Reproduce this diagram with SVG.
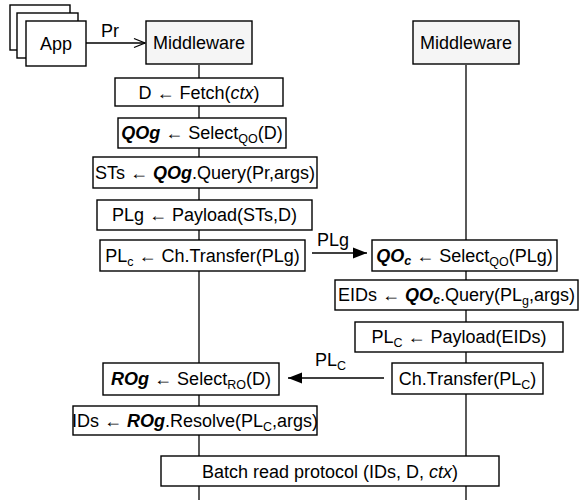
<svg xmlns="http://www.w3.org/2000/svg" width="580" height="500" viewBox="0 0 580 500">
  <style>
    text { font-family: "Liberation Sans", Arial, Helvetica, sans-serif; font-size: 18px; fill: #000; }
    .c { text-anchor: middle; }
    .box { fill: #fff; stroke: #000; stroke-width: 1.4; }
    .mw { fill: #f5f5f5; stroke: #000; stroke-width: 1.4; }
    .life { stroke: #000; stroke-width: 1.3; fill: none; }
    .msg { stroke: #000; stroke-width: 1.3; fill: none; }
    .bi { font-weight: bold; font-style: italic; }
    .it { font-style: italic; }
    .sub { font-size: 12.5px; }
  </style>
  <defs>
    <marker id="open" markerWidth="14" markerHeight="12" refX="12" refY="6" orient="auto" markerUnits="userSpaceOnUse">
      <path d="M1,1.5 L12,6 L1,10.5" fill="none" stroke="#000" stroke-width="1.3"/>
    </marker>
    <marker id="solid" markerWidth="16" markerHeight="12" refX="14" refY="6" orient="auto" markerUnits="userSpaceOnUse">
      <path d="M0,0.5 L14,6 L0,11.5 Z" fill="#000"/>
    </marker>
  </defs>

  <!-- lifelines and messages -->
  <g id="connectors">
    <line class="life" x1="199" y1="65" x2="199" y2="500"/>
    <line class="life" x1="466" y1="65" x2="466" y2="500"/>
    <line class="msg" x1="86" y1="43" x2="145" y2="43" marker-end="url(#open)"/>
    <text x="110" y="37" class="c">Pr</text>
    <line class="msg" x1="312" y1="253" x2="367" y2="253" marker-end="url(#solid)"/>
    <text x="333" y="246" class="c">PLg</text>
    <line class="msg" x1="384" y1="378" x2="288" y2="378" marker-end="url(#solid)"/>
    <text x="315" y="366">PL<tspan class="sub" dy="4">C</tspan></text>
  </g>

  <g id="app">
    <rect class="box" x="10" y="5" width="60" height="45"/>
    <rect class="box" x="17" y="13" width="61" height="45"/>
    <rect class="box" x="26" y="21" width="60" height="45"/>
    <text x="56" y="50" class="c">App</text>
  </g>

  <g id="middleware-left">
    <rect class="mw" x="146" y="21" width="106" height="43"/>
    <text x="199" y="49" class="c">Middleware</text>
  </g>

  <g id="middleware-right">
    <rect class="mw" x="413" y="21" width="106" height="43"/>
    <text x="466" y="49" class="c">Middleware</text>
  </g>

  <g id="fetch">
    <rect class="box" x="115" y="78" width="168" height="28"/>
    <text x="199" y="98.5" class="c">D ← Fetch(<tspan class="it">ctx</tspan>)</text>
  </g>

  <g id="select-qog">
    <rect class="box" x="118" y="118" width="168" height="30"/>
    <text x="202" y="139" class="c"><tspan class="bi">QOg</tspan> ← Select<tspan class="sub" dy="4">QO</tspan><tspan dy="-4">(D)</tspan></text>
  </g>

  <g id="query-sts">
    <rect class="box" x="93" y="157" width="224" height="31"/>
    <text x="205" y="178.5" class="c">STs ← <tspan class="bi">QOg</tspan>.Query(Pr,args)</text>
  </g>

  <g id="payload-plg">
    <rect class="box" x="97" y="200" width="215" height="30"/>
    <text x="204.5" y="221" class="c">PLg ← Payload(STs,D)</text>
  </g>

  <g id="transfer-plg">
    <rect class="box" x="100" y="240" width="205" height="31"/>
    <text x="202.5" y="262" class="c">PL<tspan class="sub" dy="4">c</tspan><tspan dy="-4"> ← Ch.Transfer(PLg)</tspan></text>
  </g>

  <g id="select-qoc">
    <rect class="box" x="372" y="240" width="185" height="31"/>
    <text x="464.5" y="262" class="c"><tspan class="bi">QO</tspan><tspan class="bi sub" dy="3">c</tspan><tspan dy="-3"> ← Select</tspan><tspan class="sub" dy="4">QO</tspan><tspan dy="-4">(PLg)</tspan></text>
  </g>

  <g id="query-eids">
    <rect class="box" x="335" y="280" width="243" height="30"/>
    <text x="456.5" y="301" class="c">EIDs ← <tspan class="bi">QO</tspan><tspan class="bi sub" dy="3">c</tspan><tspan dy="-3">.Query(PL</tspan><tspan class="sub" dy="4">g</tspan><tspan dy="-4">,args)</tspan></text>
  </g>

  <g id="payload-plc">
    <rect class="box" x="355" y="322" width="208" height="30"/>
    <text x="459" y="343" class="c">PL<tspan class="sub" dy="4">C</tspan><tspan dy="-4"> ← Payload(EIDs)</tspan></text>
  </g>

  <g id="transfer-plc">
    <rect class="box" x="392" y="363" width="151" height="31"/>
    <text x="467.5" y="385" class="c">Ch.Transfer(PL<tspan class="sub" dy="4">C</tspan><tspan dy="-4">)</tspan></text>
  </g>

  <g id="select-rog">
    <rect class="box" x="103" y="363" width="176" height="32"/>
    <text x="191" y="385" class="c"><tspan class="bi">ROg</tspan> ← Select<tspan class="sub" dy="4">RO</tspan><tspan dy="-4">(D)</tspan></text>
  </g>

  <g id="resolve-ids">
    <rect class="box" x="73" y="406" width="244" height="29"/>
    <text x="195" y="427" class="c">IDs ← <tspan class="bi">ROg</tspan>.Resolve(PL<tspan class="sub" dy="4">C</tspan><tspan dy="-4">,args)</tspan></text>
  </g>

  <g id="batch-read">
    <rect class="box" x="161" y="456" width="338" height="30"/>
    <text x="330" y="477.5" class="c">Batch read protocol (IDs, D, <tspan class="it">ctx</tspan>)</text>
  </g>
</svg>
